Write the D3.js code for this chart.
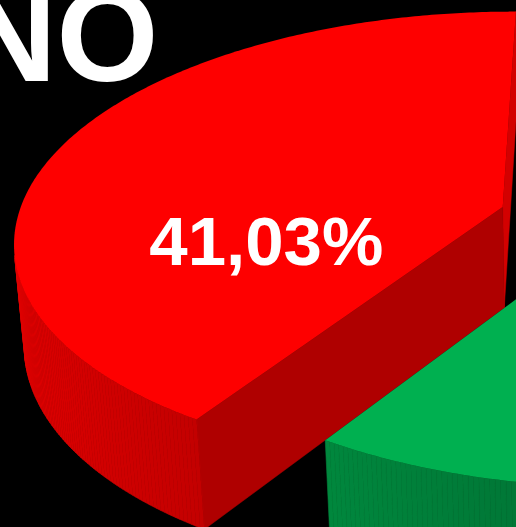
<!DOCTYPE html>
<html>
<head>
<meta charset="utf-8">
<script src="https://cdn.jsdelivr.net/npm/d3@7"></script>
<style>
  body { margin: 0; background: #000; }
  text { font-family: 'Liberation Sans', Arial, sans-serif; font-weight: bold; fill: #fff; }
</style>
</head>
<body>
<svg id="chart" width="516" height="527"></svg>
<script>
// Data
const categories = ['NO', 'SÍ'];
const values = [41.03, 58.97];
const valueLabels = ['41,03%', '58,97%'];

// Styles
const sliceColors = ['#fe0000', '#00b050'];
const explodeBy = [0.1964, 0.055];

// 3D camera, the pie has radius 1 and sits on the plane y = 0
const cam = {
  phi: 0.4843,     // tilt
  dist: 6.3015,
  focal: 3060.8,
  cx: 593.5,
  cy: 219.5,
  start: 1.5658,   // angle of the first slice edge
  height: 0.2399,
};
const cutShade = [0.83, 0.69];
const width = 516;

const svg = d3.select('#chart');
const line = d3.line();

function project(x, y, z) {
  const c = Math.cos(cam.phi);
  const s = Math.sin(cam.phi);
  const depth = cam.dist + z * c - y * s;
  return [cam.cx + cam.focal * x / depth, cam.cy - cam.focal * (y * c + z * s) / depth];
}

// Where the camera sits in world space, for back face checks
const eye = [0, cam.dist * Math.sin(cam.phi), -cam.dist * Math.cos(cam.phi)];

const arcs = d3.pie().sort(null).value(d => d)(values);
const midAngle = d => cam.start + (d.startAngle + d.endAngle) / 2;

// Draw far slices first
const order = d3.range(arcs.length)
  .sort((a, b) => Math.sin(midAngle(arcs[b])) - Math.sin(midAngle(arcs[a])));

const labelPos = [];

order.forEach(i => {
  const d = arcs[i];
  const ta = cam.start + d.startAngle;
  const tb = cam.start + d.endAngle;
  const tm = midAngle(d);
  const ox = explodeBy[i] * Math.cos(tm);
  const oz = explodeBy[i] * Math.sin(tm);
  const P = (r, t, y) => project(ox + r * Math.cos(t), y, oz + r * Math.sin(t));
  const base = d3.rgb(sliceColors[i]);
  const shade = k => d3.rgb(base.r * k, base.g * k, base.b * k).toString();
  const g = svg.append('g').attr('class', 'slice-' + i);

  // Cut faces along the two radial edges
  [[ta, 1, cutShade[0]], [tb, -1, cutShade[1]]].forEach(([t, sgn, k]) => {
    const nx = sgn * Math.sin(t);
    const nz = -sgn * Math.cos(t);
    const mx = ox + 0.5 * Math.cos(t);
    const mz = oz + 0.5 * Math.sin(t);
    if ((eye[0] - mx) * nx + (eye[2] - mz) * nz <= 0) return;
    g.append('path')
      .attr('d', line([P(0, t, 0), P(1, t, 0), P(1, t, -cam.height), P(0, t, -cam.height)]) + 'Z')
      .attr('fill', shade(k))
      .attr('stroke', shade(k))
      .attr('stroke-width', 0.5);
  });

  // Outer wall, in thin strips so the shading can follow the curve
  const n = Math.ceil((tb - ta) / 0.01);
  for (let j = 0; j < n; j++) {
    const u = ta + (tb - ta) * j / n;
    const v = ta + (tb - ta) * (j + 1) / n;
    const w = (u + v) / 2;
    const mx = ox + Math.cos(w);
    const mz = oz + Math.sin(w);
    if ((eye[0] - mx) * Math.cos(w) + (eye[2] - mz) * Math.sin(w) <= 0) continue;
    const k = 0.376 + 0.51 * (1 - Math.cos(w)) / 2;
    g.append('path')
      .attr('d', line([P(1, u, 0), P(1, v, 0), P(1, v, -cam.height), P(1, u, -cam.height)]) + 'Z')
      .attr('fill', shade(k))
      .attr('stroke', shade(k))
      .attr('stroke-width', 0.6);
  }

  // Top face
  const top = [P(0, ta, 0)];
  for (let j = 0; j <= n; j++) top.push(P(1, ta + (tb - ta) * j / n, 0));
  g.append('path')
    .attr('d', line(top) + 'Z')
    .attr('fill', sliceColors[i]);

  labelPos[i] = P(0.5, tm, 0);
});

// Value labels on the slices (only the ones inside this view)
const shown = d3.range(valueLabels.length).filter(i => labelPos[i][0] < width);
svg.selectAll('text.value')
  .data(shown)
  .join('text')
  .attr('class', 'value')
  .attr('x', i => labelPos[i][0] - 11.5)
  .attr('y', i => labelPos[i][1] + 89)
  .attr('text-anchor', 'middle')
  .attr('font-size', 69)
  .text(i => valueLabels[i]);

// Big category heading
svg.append('text')
  .attr('x', -38)
  .attr('y', 81)
  .attr('font-size', 131)
  .text(categories[0]);
</script>
</body>
</html>
